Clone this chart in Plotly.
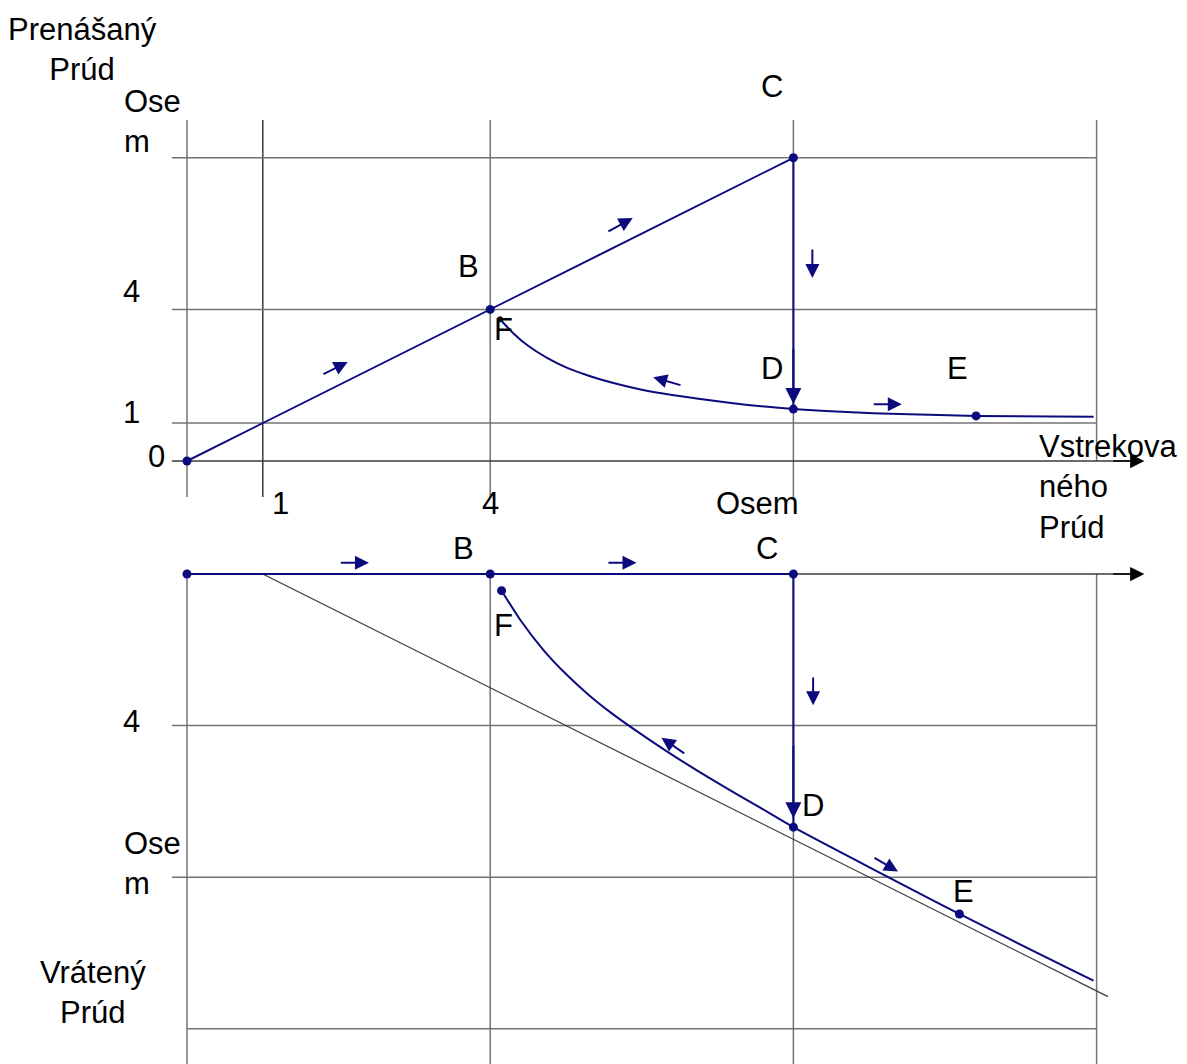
import plotly.graph_objects as go

# ---------------- data ----------------
# Top panel: transferred current vs injected current
ramp_x = [0, 4, 8]            # O, B, C
ramp_y = [0, 4, 8]
drop_top_x = [8, 8]           # C -> D
drop_top_y = [8, 1.37]
curve_top_x = [4.13, 4.3, 4.5, 4.75, 5.0, 5.3, 5.6, 6.0, 6.4, 6.9, 7.4, 8.0, 8.7, 9.4, 10.41, 11.96]
curve_top_y = [3.74, 3.38, 3.04, 2.72, 2.47, 2.25, 2.07, 1.88, 1.74, 1.60, 1.48, 1.37, 1.29, 1.24, 1.19, 1.17]
dots_top_x = [0, 4, 8, 8.0, 10.41]
dots_top_y = [0, 4, 8, 1.37, 1.19]
f_top = (4.13, 3.74)

# Bottom panel: returned current vs injected current
flat_x = [0, 4, 8]            # O, B, C
flat_y = [0, 0, 0]
drop_bot_x = [8, 8]
drop_bot_y = [0, -6.68]
curve_bot_x = [4.15, 4.4, 4.7, 5.0, 5.3, 5.6, 5.9, 6.3, 6.7, 7.1, 7.55, 8.0, 10.19, 11.96]
curve_bot_y = [-0.44, -1.22, -2.0, -2.64, -3.19, -3.67, -4.10, -4.64, -5.15, -5.63, -6.15, -6.68, -8.97, -10.73]
dots_bot_x = [0, 4, 8, 4.15, 8.0, 10.19]
dots_bot_y = [0, 0, 0, -0.44, -6.68, -8.97]
diag_x = [1, 12.15]
diag_y = [0, -11.15]

# grid values
grid_x_top = [0, 1, 4, 8]
grid_x_top_right = 12
grid_y_top = [1, 4, 8]
grid_x_bot = [0, 4, 8, 12]
grid_y_bot = [-4, -8]
grid_y_bot_last = -12

# direction arrows (tail_x, tail_y, head_x, head_y)
arrows_top = [
    (1.78, 2.27, 2.12, 2.61),
    (5.54, 6.04, 5.88, 6.41),
    (8.25, 5.62, 8.25, 4.83),
    (6.53, 1.99, 6.15, 2.21),
    (9.04, 1.50, 9.43, 1.50),
]
arrows_bot = [
    (2.01, 0.30, 2.40, 0.30),
    (5.54, 0.30, 5.93, 0.30),
    (8.26, -2.69, 8.26, -3.46),
    (6.58, -4.76, 6.26, -4.32),
    (9.05, -7.47, 9.38, -7.85),
]

# labels: (text, x, y, xanchor, align)
labels_top = [
    ("Prenášaný<br>Prúd", -1.38, 10.86, "center", "center"),
    ("Ose<br>m", -0.86, 8.96, "left", "left"),
    ("C", 7.72, 9.87, "center", "center"),
    ("B", 3.72, 5.12, "center", "center"),
    ("4", -0.73, 4.46, "center", "center"),
    ("F", 4.18, 3.46, "center", "center"),
    ("D", 7.72, 2.45, "center", "center"),
    ("E", 10.17, 2.45, "center", "center"),
    ("1", -0.73, 1.29, "center", "center"),
    ("0", -0.40, 0.11, "center", "center"),
    ("1", 1.23, -1.11, "center", "center"),
    ("4", 4.01, -1.11, "center", "center"),
    ("Osem", 7.53, -1.11, "center", "center"),
    ("Vstrekova<br>ného<br>Prúd", 11.21, -0.69, "left", "left"),
]
labels_bot = [
    ("B", 3.65, 0.66, "center", "center"),
    ("C", 7.65, 0.66, "center", "center"),
    ("F", 4.17, -1.37, "center", "center"),
    ("4", -0.73, -3.9, "center", "center"),
    ("D", 8.26, -6.12, "center", "center"),
    ("Ose<br>m", -0.86, -7.64, "left", "left"),
    ("E", 10.24, -8.39, "center", "center"),
    ("Vrátený<br>Prúd", -1.24, -11.04, "center", "center"),
]

BLUE = "#0b0b7e"
GRID = "#737373"
DARK = "#3a3a3a"
FONT = dict(family="Arial, Liberation Sans, sans-serif", size=31, color="black")

fig = go.Figure()


def seg(xs, ys, color, width, yaxis="y"):
    fig.add_trace(go.Scatter(x=xs, y=ys, mode="lines", yaxis=yaxis,
                             line=dict(color=color, width=width),
                             hoverinfo="skip", showlegend=False))


# ---- top panel grid ----
for gx in grid_x_top:
    seg([gx, gx], [-0.95, 9.0], DARK if gx == 1 else GRID, 1.5)
seg([grid_x_top_right, grid_x_top_right], [0, 9.0], GRID, 1.5)
for gy in grid_y_top:
    seg([-0.2, 12], [gy, gy], GRID, 1.5)
seg([-0.2, 12.55], [0, 0], DARK, 1.5)

# ---- bottom panel grid ----
for gx in grid_x_bot:
    seg([gx, gx], [0, -13.5], GRID, 1.5, "y2")
for gy in grid_y_bot:
    seg([-0.2, 12], [gy, gy], GRID, 1.5, "y2")
seg([0, 12], [grid_y_bot_last, grid_y_bot_last], GRID, 1.5, "y2")
seg([8, 12.55], [0, 0], DARK, 1.5, "y2")
seg(diag_x, diag_y, DARK, 1.2, "y2")

# ---- top panel curves ----
seg(ramp_x, ramp_y, BLUE, 2)
seg(drop_top_x, drop_top_y, BLUE, 2)
fig.add_trace(go.Scatter(x=curve_top_x, y=curve_top_y, mode="lines",
                         line=dict(color=BLUE, width=2, shape="spline", smoothing=0.6),
                         hoverinfo="skip", showlegend=False))
fig.add_trace(go.Scatter(x=dots_top_x, y=dots_top_y, mode="markers",
                         marker=dict(color=BLUE, size=9), hoverinfo="skip", showlegend=False))
fig.add_trace(go.Scatter(x=[f_top[0]], y=[f_top[1]], mode="markers",
                         marker=dict(color="#111133", size=6), hoverinfo="skip", showlegend=False))

# ---- bottom panel curves ----
seg(flat_x, flat_y, BLUE, 2, "y2")
seg(drop_bot_x, drop_bot_y, BLUE, 2, "y2")
fig.add_trace(go.Scatter(x=curve_bot_x, y=curve_bot_y, mode="lines", yaxis="y2",
                         line=dict(color=BLUE, width=2, shape="spline", smoothing=0.6),
                         hoverinfo="skip", showlegend=False))
fig.add_trace(go.Scatter(x=dots_bot_x, y=dots_bot_y, mode="markers", yaxis="y2",
                         marker=dict(color=BLUE, size=9), hoverinfo="skip", showlegend=False))

annotations = []


def arrow(tx, ty, hx, hy, yref, color=BLUE, width=2, size=1.4, standoff=0):
    annotations.append(dict(x=hx, y=hy, ax=tx, ay=ty, xref="x", yref=yref,
                            axref="x", ayref=yref, text="", showarrow=True,
                            arrowhead=2, arrowwidth=width, arrowsize=size,
                            arrowcolor=color, standoff=standoff))


for a in arrows_top:
    arrow(*a, "y")
for a in arrows_bot:
    arrow(*a, "y2")

# arrowheads at D on the vertical drops
arrow(8, 3.0, drop_top_x[1], drop_top_y[1], "y", size=1.6, standoff=5)
arrow(8, -4.5, drop_bot_x[1], drop_bot_y[1], "y2", size=1.6, standoff=9)
# axis arrowheads
arrow(12.2, 0, 12.63, 0, "y", color="black", width=1.5, size=1.9)
arrow(12.2, 0, 12.63, 0, "y2", color="black", width=1.5, size=1.9)

for text, x, y, xa, al in labels_top:
    annotations.append(dict(x=x, y=y, xref="x", yref="y", text=text, showarrow=False,
                            xanchor=xa, yanchor="middle", align=al, font=FONT))
for text, x, y, xa, al in labels_bot:
    annotations.append(dict(x=x, y=y, xref="x", yref="y2", text=text, showarrow=False,
                            xanchor=xa, yanchor="middle", align=al, font=FONT))

W, H = 1187, 1064
PX_X, PX_Y = 75.8, 37.9
# origin positions inside the figure (page body adds an 8px margin)
X0, Y0_TOP, Y0_BOT = 179, 453, 566

fig.update_layout(
    width=W, height=H,
    margin=dict(l=0, r=0, t=0, b=0),
    paper_bgcolor="white", plot_bgcolor="white",
    showlegend=False,
    xaxis=dict(range=[-X0 / PX_X, (W - X0) / PX_X], visible=False, fixedrange=True),
    yaxis=dict(range=[(Y0_TOP - H) / PX_Y, Y0_TOP / PX_Y], visible=False, fixedrange=True),
    yaxis2=dict(range=[(Y0_BOT - H) / PX_Y, Y0_BOT / PX_Y], visible=False,
                overlaying="y", fixedrange=True),
    annotations=annotations,
)

fig.write_html("out.html")
